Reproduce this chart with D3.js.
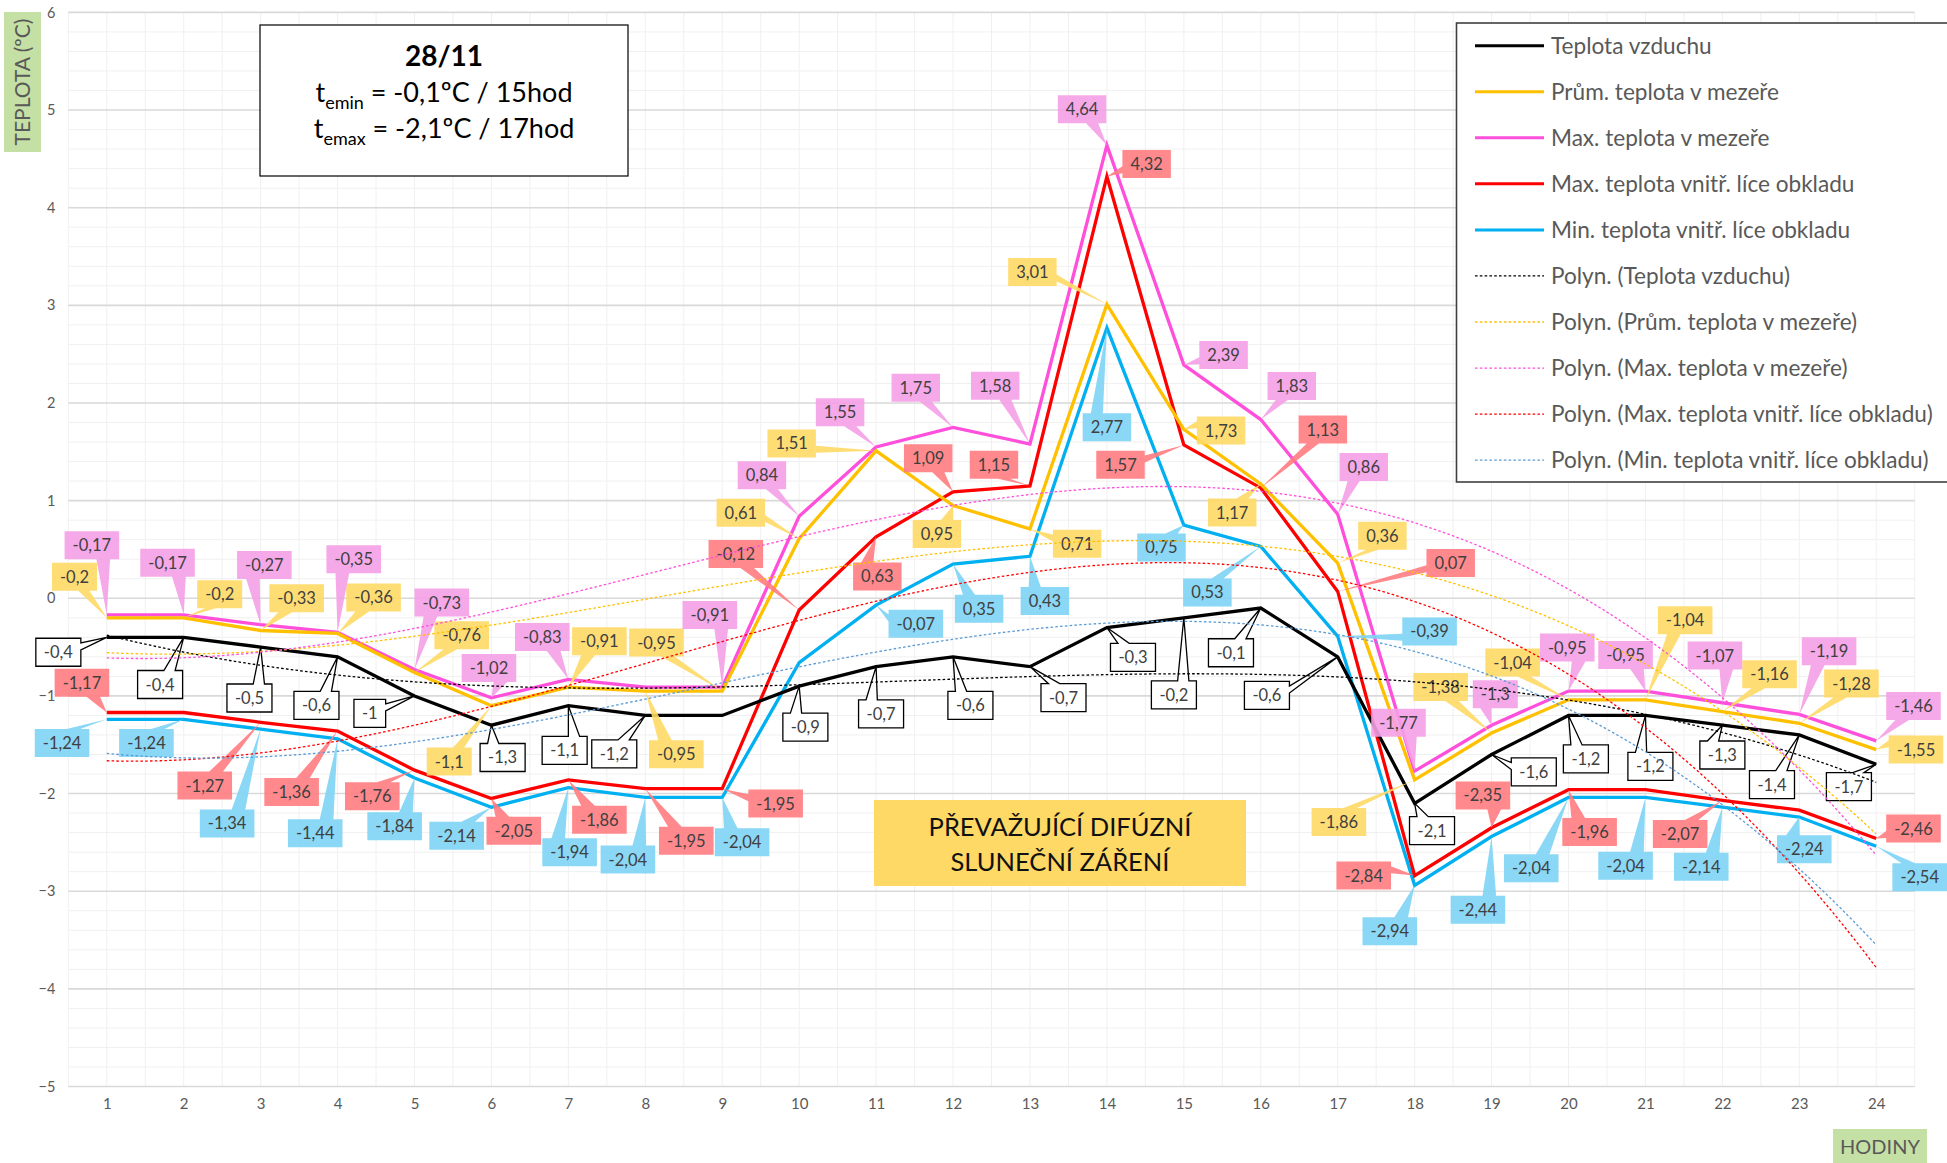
<!DOCTYPE html>
<html><head><meta charset="utf-8">
<script src="https://cdn.jsdelivr.net/npm/d3@7"></script>
<style>
body{margin:0;background:#fff;}
svg{display:block;font-family:Lato,'Open Sans',sans-serif;}
</style>
</head><body>
<svg id="c" width="1947" height="1163"></svg>
<script>
// ---------- DATA ----------
const hours = d3.range(1, 25);
const yTickValues = [-5, -4, -3, -2, -1, 0, 1, 2, 3, 4, 5, 6];

const teplotaVzduchu = [-0.4,-0.4,-0.5,-0.6,-1,-1.3,-1.1,-1.2,-1.2,-0.9,-0.7,-0.6,-0.7,-0.3,-0.2,-0.1,-0.6,-2.1,-1.6,-1.2,-1.2,-1.3,-1.4,-1.7];
const prumTeplotaMezera = [-0.2,-0.2,-0.33,-0.36,-0.76,-1.1,-0.91,-0.95,-0.95,0.61,1.51,0.95,0.71,3.01,1.73,1.17,0.36,-1.86,-1.38,-1.04,-1.04,-1.16,-1.28,-1.55];
const maxTeplotaMezera = [-0.17,-0.17,-0.27,-0.35,-0.73,-1.02,-0.83,-0.91,-0.91,0.84,1.55,1.75,1.58,4.64,2.39,1.83,0.86,-1.77,-1.3,-0.95,-0.95,-1.07,-1.19,-1.46];
const maxTeplotaLice = [-1.17,-1.17,-1.27,-1.36,-1.76,-2.05,-1.86,-1.95,-1.95,-0.12,0.63,1.09,1.15,4.32,1.57,1.13,0.07,-2.84,-2.35,-1.96,-1.96,-2.07,-2.17,-2.46];
const minTeplotaLice = [-1.24,-1.24,-1.34,-1.44,-1.84,-2.14,-1.94,-2.04,-2.04,-0.66,-0.07,0.35,0.43,2.77,0.75,0.53,-0.39,-2.94,-2.44,-2.04,-2.04,-2.14,-2.24,-2.54];

const seriesNames = ["Teplota vzduchu","Prům. teplota v mezeře","Max. teplota v mezeře","Max. teplota vnitř. líce obkladu","Min. teplota vnitř. líce obkladu"];
const trendNames = seriesNames.map(n => "Polyn. (" + n + ")");

const titleDate = "28/11";
const titleLines = [["emin", " = -0,1ºC / 15hod"], ["emax", " = -2,1ºC / 17hod"]];
const noteLines = ["PŘEVAŽUJÍCÍ DIFÚZNÍ", "SLUNEČNÍ ZÁŘENÍ"];
const yTitle = "TEPLOTA (ºC)";
const xTitle = "HODINY";

// label callout offsets (layout, in reference px), null = no label
const offBlack = [[-39,12],[-19,38],[-9,41],[-17,39],[-36,14],[9,26],[-3,36],[-25,31],null,[5,33],[4,38],[14,39],[27,25],[21,24],[-8,62],[-24,36],[-57,31],[14,22],[34,14],[14,35],[4,41],[0,24],[-22,40],[-22,18]];
const offYellow = [[-26,-33],[29,-19],[29,-26],[29,-29],[38,-30],[-34,45],[25,-37],[25,51],[-53,-39],[-47,-21],[-68,-6],[-13,23],[38,12],[-60,-26],[30,1],[-23,23],[36,-22],[-61,34],[-41,-37],[-45,-30],[32,-64],[38,-30],[42,-32],[32,0]];
const offPink = [[-12,-56],[-13,-42],[3,-48],[13,-59],[22,-54],[-2,-24],[-21,-34],null,[-10,-58],[-30,-33],[-29,-28],[-30,-32],[-28,-47],[-20,-29],[32,-8],[25,-27],[21,-38],[-13,-39],[3,-25],[-1,-35],[-16,-29],[-6,-38],[24,-51],[30,-28]];
const offRed = [[-20,-24],null,[-45,51],[-37,49],[-34,21],[18,26],[25,32],[33,42],[43,12],[-51,-45],[1,32],[-20,-27],[-29,-17],[32,-10],[-51,16],[50,-47],[91,-23],[-41,0],[-7,-26],[17,34],null,[-34,27],null,[30,-8]];
const offBlue = [[-36,19],[-30,19],[-27,76],[-18,76],[-16,39],[-28,23],[1,52],[-14,50],[16,36],null,[32,15],[21,36],[12,36],[0,80],[-18,18],[-43,37],[74,-4],[-20,37],[-11,59],[-30,57],[-16,55],[-17,48],[4,26],[35,25]];

// ---------- STYLE ----------
const S = 1947 / 1568;
const series = [
  {name: seriesNames[0], values: teplotaVzduchu, color: "#000000", trend: "#000000", lab: "#ffffff", labStroke: "#000000", off: offBlack},
  {name: seriesNames[1], values: prumTeplotaMezera, color: "#FFC000", trend: "#FFC000", lab: "#FFD966", off: offYellow},
  {name: seriesNames[2], values: maxTeplotaMezera, color: "#FF4FDB", trend: "#FF4FDB", lab: "#F5A0E6", off: offPink},
  {name: seriesNames[3], values: maxTeplotaLice, color: "#FF0000", trend: "#FF0000", lab: "#FF7C80", off: offRed},
  {name: seriesNames[4], values: minTeplotaLice, color: "#00B0F0", trend: "#5B9BD5", lab: "#7DD3F5", off: offBlue}
];

const svg = d3.select("#c");
const pLeft = 68.3, pRight = 1914.7, pTop = 12.4, pBottom = 1086.5;
const step = (pRight - pLeft) / 24;
const x = d3.scalePoint().domain(hours).range([pLeft + step/2, pRight - step/2]);
const y = d3.scaleLinear().domain([-5, 6]).range([pBottom, pTop]);

// ---------- GRID ----------
const grid = svg.append("g");
d3.range(-5, 6.0001, 0.2).forEach(v => {
  if (Math.abs(v - Math.round(v)) < 1e-6) return;
  grid.append("line").attr("x1", pLeft).attr("x2", pRight).attr("y1", y(v)).attr("y2", y(v))
    .attr("stroke", "#f0f0f0").attr("stroke-width", 1);
});
d3.range(0, 49).forEach(i => {
  const xv = pLeft + i * step / 2;
  grid.append("line").attr("x1", xv).attr("x2", xv).attr("y1", pTop).attr("y2", pBottom)
    .attr("stroke", "#f0f0f0").attr("stroke-width", 1);
});
yTickValues.forEach(v => {
  grid.append("line").attr("x1", pLeft).attr("x2", pRight).attr("y1", y(v)).attr("y2", y(v))
    .attr("stroke", "#d9d9d9").attr("stroke-width", 1.6);
});

// ---------- AXES ----------
const yAxis = d3.axisLeft(y).tickValues(yTickValues).tickSize(0).tickPadding(0).tickFormat(d3.format("d"));
const gy = svg.append("g").attr("transform", `translate(${pLeft - 13},0)`).call(yAxis);
gy.select(".domain").remove();
gy.selectAll("text").attr("font-size", 14.5).attr("fill", "#595959").attr("font-family", "Lato");

const xAxis = d3.axisBottom(x).tickSize(0).tickPadding(0);
const gx = svg.append("g").attr("transform", `translate(0,${pBottom + 12})`).call(xAxis);
gx.select(".domain").remove();
gx.selectAll("text").attr("font-size", 15).attr("fill", "#595959").attr("font-family", "Lato");

svg.append("rect").attr("x", 4).attr("y", 12).attr("width", 37).attr("height", 140).attr("fill", "#C5E0A4");
svg.append("text").attr("transform", `translate(29.5,82) rotate(-90)`).attr("text-anchor", "middle")
  .attr("font-size", 21).attr("fill", "#595959").text(yTitle);
svg.append("rect").attr("x", 1833).attr("y", 1129).attr("width", 94).attr("height", 36).attr("fill", "#C5E0A4");
svg.append("text").attr("x", 1880).attr("y", 1154).attr("text-anchor", "middle")
  .attr("font-size", 20).attr("fill", "#595959").text(xTitle);

// ---------- POLYNOMIAL TRENDS (least squares fit of the data) ----------
function polyfit(xs, ys, deg) {
  const n = deg + 1, c = 12.5;
  const A = Array.from({length: n}, () => new Array(n + 1).fill(0));
  xs.forEach((xv, i) => {
    const t = xv - c;
    for (let r = 0; r < n; r++) {
      for (let k = 0; k < n; k++) A[r][k] += Math.pow(t, r + k);
      A[r][n] += ys[i] * Math.pow(t, r);
    }
  });
  for (let i = 0; i < n; i++) {
    let p = i;
    for (let r = i + 1; r < n; r++) if (Math.abs(A[r][i]) > Math.abs(A[p][i])) p = r;
    [A[i], A[p]] = [A[p], A[i]];
    for (let r = 0; r < n; r++) {
      if (r === i) continue;
      const f = A[r][i] / A[i][i];
      for (let k = i; k <= n; k++) A[r][k] -= f * A[i][k];
    }
  }
  const cf = A.map((row, i) => row[n] / row[i]);
  return xv => cf.reduce((s, a, i) => s + a * Math.pow(xv - c, i), 0);
}
const trendDeg = 3;

const lineGen = d3.line().x(d => x(d[0])).y(d => y(d[1]));
const contLine = d3.line().x(d => x.range()[0] + (d[0] - 1) * x.step()).y(d => y(d[1]));

// ---------- SERIES LINES ----------
const gl = svg.append("g");
series.slice().reverse().forEach(s => {
  gl.append("path").datum(hours.map((h, i) => [h, s.values[i]]))
    .attr("d", lineGen).attr("fill", "none").attr("stroke", s.color)
    .attr("stroke-width", 3.3).attr("stroke-linejoin", "miter");
});

// ---------- LABELS ----------
const fmt = v => String(v).replace(".", ",");
const gLab = svg.append("g");
function callout(px, py, off, txt, fill, stroke) {
  const cx = px + off[0] * S, cy = py + off[1] * S;
  const g = gLab.append("g");
  const path = g.append("path");
  const t = g.append("text").attr("x", cx).attr("y", cy + 6).attr("text-anchor", "middle")
    .attr("font-size", 16.5).attr("fill", "#404040").text(txt);
  const tw = t.node().getComputedTextLength();
  const w = tw + 16, h = 28;
  const x0 = cx - w / 2, y0 = cy - h / 2;
  const dxp = px - cx, dyp = py - cy;
  const tx = px - x0, ty = py - y0;
  let d;
  if (Math.abs(dxp) < w / 2 && Math.abs(dyp) < h / 2) {
    d = `M0,0H${w}V${h}H0Z`;
  } else {
    const dq = dxp * h / w;
    if (Math.abs(dq) > Math.abs(dyp)) {
      const y1 = h * (dyp > 0 ? 7 : 2) / 12, y2 = h * (dyp > 0 ? 10 : 5) / 12;
      if (dxp < 0) d = `M0,0H${w}V${h}H0V${y2}L${tx},${ty}L0,${y1}Z`;
      else d = `M0,0H${w}V${y1}L${tx},${ty}L${w},${y2}V${h}H0Z`;
    } else {
      const x1 = w * (dxp > 0 ? 7 : 2) / 12, x2 = w * (dxp > 0 ? 10 : 5) / 12;
      if (dyp < 0) d = `M0,0H${x1}L${tx},${ty}L${x2},0H${w}V${h}H0Z`;
      else d = `M0,0H${w}V${h}H${x2}L${tx},${ty}L${x1},${h}H0Z`;
    }
  }
  path.attr("d", d).attr("transform", `translate(${x0},${y0})`).attr("fill", fill)
    .attr("fill-opacity", stroke ? 1 : 0.9)
    .attr("stroke", stroke || "none").attr("stroke-width", stroke ? 1.3 : 0);
}
series.forEach(s => {
  s.values.forEach((v, i) => {
    const o = s.off[i];
    if (!o) return;
    callout(x(hours[i]), y(v), o, fmt(v), s.lab, s.labStroke);
  });
});

// trend lines
const gt = svg.append("g");
series.forEach(s => {
  const f = polyfit(hours, s.values, trendDeg);
  const pts = d3.range(1, 24.001, 0.1).map(h => [h, f(h)]);
  gt.append("path").datum(pts).attr("d", contLine).attr("fill", "none")
    .attr("stroke", s.trend).attr("stroke-width", 1.3).attr("stroke-dasharray", "2.6,2.2");
});

// ---------- NOTE BOX ----------
svg.append("rect").attr("x", 874).attr("y", 800).attr("width", 372).attr("height", 86).attr("fill", "#FFD966");
noteLines.forEach((l, i) => {
  svg.append("text").attr("x", 1060).attr("y", 836 + i * 35).attr("text-anchor", "middle")
    .attr("font-size", 25.5).attr("fill", "#111").text(l);
});

// ---------- TITLE BOX ----------
svg.append("rect").attr("x", 260).attr("y", 25).attr("width", 368).attr("height", 151)
  .attr("fill", "#fff").attr("stroke", "#000").attr("stroke-width", 1.2);
svg.append("text").attr("x", 444).attr("y", 66).attr("text-anchor", "middle")
  .attr("font-size", 28).attr("font-weight", "bold").attr("fill", "#000").text(titleDate);
titleLines.forEach((l, i) => {
  const t = svg.append("text").attr("x", 444).attr("y", 102 + i * 36).attr("text-anchor", "middle")
    .attr("font-size", 27).attr("fill", "#000");
  t.append("tspan").text("t");
  t.append("tspan").attr("font-size", 18).attr("dy", 7).text(l[0]);
  t.append("tspan").attr("dy", -7).text(l[1]);
});

// ---------- LEGEND ----------
svg.append("rect").attr("x", 1456.5).attr("y", 23).attr("width", 520).attr("height", 459)
  .attr("fill", "#fff").attr("stroke", "#404040").attr("stroke-width", 1.6);
const legItems = series.map(s => ({name: s.name, color: s.color, dash: false}))
  .concat(series.map((s, i) => ({name: trendNames[i], color: s.trend, dash: true})));
legItems.forEach((it, i) => {
  const ly = 45.7 + i * 46.05;
  svg.append("line").attr("x1", 1475).attr("x2", 1544).attr("y1", ly).attr("y2", ly)
    .attr("stroke", it.color).attr("stroke-width", it.dash ? 1.3 : 3)
    .attr("stroke-dasharray", it.dash ? "2.6,2.2" : null);
  svg.append("text").attr("x", 1551).attr("y", ly + 8).attr("font-size", 22.6)
    .attr("fill", "#595959").text(it.name);
});
</script>
</body></html>
